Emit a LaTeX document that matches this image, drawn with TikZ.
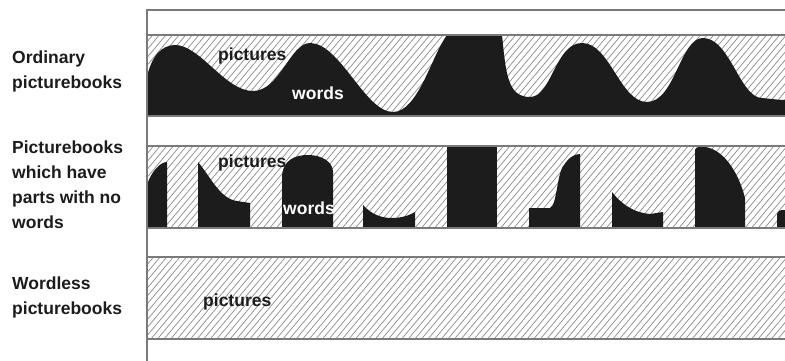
\documentclass[tikz,border=0pt]{standalone}
\usepackage{fontspec}
\setmainfont{Liberation Sans}
\definecolor{ink}{HTML}{1C1C1C}
\definecolor{hatch}{HTML}{8C8C8C}
\definecolor{frame}{HTML}{7A7A7A}
\tikzset{
  lbl/.style={font=\fontsize{17.5}{25}\selectfont\bfseries, text=ink, align=left, anchor=north west, inner sep=0pt},
  inlbl/.style={font=\fontsize{17.5}{20}\selectfont\bfseries, text=ink, inner sep=0pt},
  wlbl/.style={font=\fontsize{17.5}{20}\selectfont\bfseries, text=white, inner sep=0pt},
  blk/.style={fill=ink, draw=none},
  hatchline/.style={draw=hatch, line width=0.7pt},
  bandline/.style={draw=frame, line width=1.2pt},
}
\newcommand{\hatchband}[2]{%
  \begin{scope}
    \clip (147,#1) rectangle (785,#2);
    \foreach \i in {0,...,115} {
      \draw[hatchline] (70+\i*6.6,#2+2) -- ++(72,-86);
    }
  \end{scope}}
\begin{document}
\begin{tikzpicture}[x=1pt,y=-1pt]
\useasboundingbox (0,0) rectangle (785,361);
\fill[white] (0,0) rectangle (785,361);

% hatching
\hatchband{35}{116}
\hatchband{146}{228}
\hatchband{257}{339}

% band 1 wave
\path[blk] (147,116) -- (147,78)
  .. controls (151,56) and (162,45) .. (175,45)
  .. controls (200,45) and (225,91) .. (253,91)
  .. controls (280,91) and (290,43) .. (310,43)
  .. controls (340,43) and (365,112) .. (393,112)
  .. controls (418,112) and (432,55) .. (447,35)
  -- (502,35)
  .. controls (506,75) and (508,97) .. (530,97)
  .. controls (552,97) and (555,43) .. (582,43)
  .. controls (610,43) and (620,102) .. (647,102)
  .. controls (675,102) and (680,38) .. (703,38)
  .. controls (730,38) and (740,98) .. (762,98)
  .. controls (772,99) and (780,100) .. (785,100)
  -- (785,116) -- cycle;

% band 2 blocks
\path[blk] (147,228) -- (147,185) .. controls (151,172) and (160,162) .. (167,162) -- (167,228) -- cycle;
\path[blk] (198,228) -- (198,162) .. controls (210,176) and (220,199) .. (237,201) -- (250,203) -- (250,228) -- cycle;
\path[blk] (282,228) -- (282,178) .. controls (282,160) and (295,155) .. (308,155) .. controls (322,155) and (333,162) .. (333,172) -- (333,228) -- cycle;
\path[blk] (363,228) -- (363,205) .. controls (372,215) and (382,218) .. (392,218) .. controls (402,218) and (410,215) .. (415,212) -- (415,228) -- cycle;
\path[blk] (447,146) rectangle (497,228);
\path[blk] (529,228) -- (529,208) -- (550,208) .. controls (557,206) and (557,172) .. (564,165) .. controls (569,157) and (575,154) .. (580,154) -- (580,228) -- cycle;
\path[blk] (612,228) -- (612,192) .. controls (622,205) and (635,213) .. (650,214) -- (663,212) -- (663,228) -- cycle;
\path[blk] (695,228) -- (695,150) .. controls (696,146) and (700,147) .. (705,147) .. controls (722,149) and (738,170) .. (745,198) -- (745,228) -- cycle;
\path[blk] (777,228) -- (777,214) .. controls (778,211) and (780,210) .. (782,210) -- (785,210) -- (785,228) -- cycle;

% frame lines
\draw[bandline] (147,35) -- (785,35);
\draw[bandline] (147,116) -- (785,116);
\draw[bandline] (147,146) -- (785,146);
\draw[bandline] (147,228) -- (785,228);
\draw[bandline] (147,257) -- (785,257);
\draw[bandline] (147,339) -- (785,339);
\draw[draw=frame, line width=1.2pt] (147,361) -- (147,10) -- (785,10);

% in-band labels
\node[inlbl, anchor=west] (p1) at (218,56) {pictures};
\node[wlbl, anchor=west] (w1) at (292,93) {words};
\node[inlbl, anchor=west] (p2) at (218,163) {pictures};
\node[wlbl, anchor=west] (w2) at (283,208) {words};
\node[inlbl, anchor=west] (p3) at (203,302) {pictures};

% row labels
\node[lbl] (r1) at (12,51) {Ordinary\\picturebooks};
\node[lbl] (r2) at (12,141) {Picturebooks\\which have\\parts with no\\words};
\node[lbl] (r3) at (12,277) {Wordless\\picturebooks};
\end{tikzpicture}
\end{document}
